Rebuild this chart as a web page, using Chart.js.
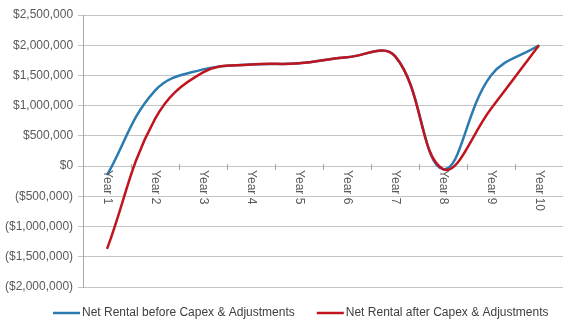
<!DOCTYPE html>
<html>
<head>
<meta charset="utf-8">
<script src="https://cdn.jsdelivr.net/npm/chart.js@4/dist/chart.umd.min.js"></script>
<style>
  html, body { margin: 0; padding: 0; background: #ffffff; }
  #wrap { width: 563px; height: 322px; position: relative; }
</style>
</head>
<body>
<div id="wrap"><canvas id="c" width="563" height="322"></canvas></div>
<script>
// Ten-year projection of net rental income
const years = ['Year 1', 'Year 2', 'Year 3', 'Year 4', 'Year 5', 'Year 6', 'Year 7', 'Year 8', 'Year 9', 'Year 10'];
const netBeforeCapex = [-150000, 1250000, 1600000, 1680000, 1700000, 1800000, 1820000, -50000, 1500000, 2000000];
const netAfterCapex = [-1370000, 780000, 1550000, 1680000, 1700000, 1800000, 1820000, -50000, 950000, 2000000];
const seriesNames = ['Net Rental before Capex & Adjustments', 'Net Rental after Capex & Adjustments'];
const yMin = -2000000, yMax = 2500000, yStep = 500000;

const FONT = '"Liberation Sans", Arial, sans-serif';
const BLUE = '#2b7bb0';
const RED = '#c0141f';

function money(v) {
  const s = '$' + Math.abs(v).toLocaleString('en-US');
  return v < 0 ? '(' + s + ')' : s;
}

// Category labels sit on the zero line, turned a quarter clockwise,
// with small tick marks between categories.
const zeroLineLabels = {
  id: 'zeroLineLabels',
  afterDatasetsDraw(chart) {
    const xs = chart.scales.x, ys = chart.scales.y, ctx = chart.ctx;
    const y0 = ys.getPixelForValue(0);
    ctx.save();
    ctx.strokeStyle = '#a6a6a6';
    ctx.lineWidth = 1;
    for (let i = 0; i <= years.length; i++) {
      const px = Math.round(xs.getPixelForValue(i - 0.5)) + 0.5;
      ctx.beginPath();
      ctx.moveTo(px, y0 - 2);
      ctx.lineTo(px, y0 + 4);
      ctx.stroke();
    }
    ctx.fillStyle = '#595959';
    ctx.font = '12px ' + FONT;
    ctx.textAlign = 'left';
    ctx.textBaseline = 'middle';
    years.forEach((lab, i) => {
      const px = xs.getPixelForValue(i);
      ctx.save();
      ctx.translate(px, y0 + 4);
      ctx.rotate(Math.PI / 2);
      ctx.fillText(lab, 0, 0);
      ctx.restore();
    });
    ctx.restore();
  }
};

// Series key along the bottom: a short line sample followed by the name.
const seriesKey = {
  id: 'seriesKey',
  afterDraw(chart) {
    const ctx = chart.ctx;
    const y = 313, sample = 27, gap = 2, between = 22;
    let x = 53;
    ctx.save();
    ctx.font = '12px ' + FONT;
    ctx.textAlign = 'left';
    ctx.textBaseline = 'middle';
    chart.data.datasets.forEach((ds) => {
      ctx.strokeStyle = ds.borderColor;
      ctx.lineWidth = 2.5;
      ctx.beginPath();
      ctx.moveTo(x, y);
      ctx.lineTo(x + sample, y);
      ctx.stroke();
      x += sample + gap;
      ctx.fillStyle = '#404040';
      ctx.fillText(ds.label, x, y);
      x += ctx.measureText(ds.label).width + between;
    });
    ctx.restore();
  }
};

new Chart(document.getElementById('c'), {
  type: 'line',
  data: {
    labels: years,
    datasets: [
      {
        label: seriesNames[0],
        data: netBeforeCapex,
        borderColor: BLUE,
        backgroundColor: BLUE,
        borderWidth: 2.5,
        pointRadius: 0,
        tension: 0.4,
        fill: false,
        order: 1
      },
      {
        label: seriesNames[1],
        data: netAfterCapex,
        borderColor: RED,
        backgroundColor: RED,
        borderWidth: 2.5,
        pointRadius: 0,
        tension: 0.4,
        fill: false,
        order: 0
      }
    ]
  },
  options: {
    responsive: false,
    animation: false,
    devicePixelRatio: 1,
    layout: { padding: { left: 0, right: 0, top: 15, bottom: 35 } },
    plugins: {
      tooltip: { enabled: false },
      title: { display: false },
      legend: { display: false }
    },
    scales: {
      x: {
        type: 'category',
        display: false,
        offset: true
      },
      y: {
        min: yMin,
        max: yMax,
        border: { display: true, color: '#a6a6a6', width: 1 },
        grid: { color: '#c4c4c4', lineWidth: 1, tickLength: 5, drawTicks: true },
        ticks: {
          stepSize: yStep,
          padding: 5,
          color: '#595959',
          font: { family: FONT, size: 12 },
          callback: (v) => money(v)
        }
      }
    }
  },
  plugins: [zeroLineLabels, seriesKey]
});
</script>
</body>
</html>
